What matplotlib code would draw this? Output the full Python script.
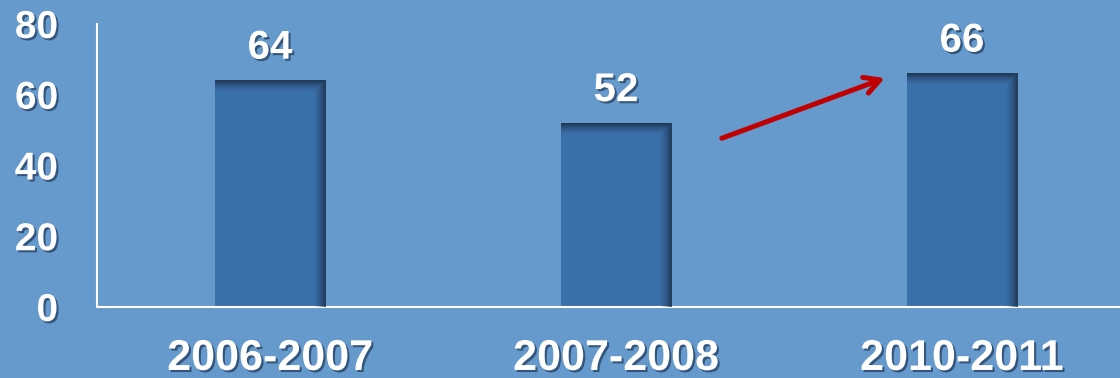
"""
bar chart of yearly counts with trend arrow
"""

import numpy as np
import matplotlib
matplotlib.use("Agg")
import matplotlib.pyplot as plt
import matplotlib.patheffects as pe

# data
periods = ["2006-2007", "2007-2008", "2010-2011"]
counts = [64, 52, 66]
y_ticks = [0, 20, 40, 60, 80]

BG = "#6699CC"
BAR = "#3A70AA"
shadow = [pe.withSimplePatchShadow(offset=(1.5, -1.5), shadow_rgbFace="#1F3A5C", alpha=0.7)]


def bar_shade(ax, x, h, width):
    """dark inner shade along the top and right edges of one bar"""
    n = 200
    u = np.linspace(0, 1, n)
    right = np.clip((u - 0.88) / 0.12, 0, 1) ** 1.6
    top_frac = 12 / (h * 3.54)
    v = np.linspace(0, 1, n)[:, None]
    top = np.clip((v - (1 - top_frac)) / top_frac, 0, 1) ** 1.6
    alpha = np.maximum(right[None, :], top)
    rgba = np.zeros((n, n, 4))
    rgba[..., :3] = np.array([0.1, 0.17, 0.27])
    rgba[..., 3] = alpha * 0.85
    ax.imshow(rgba, extent=(x - width / 2, x + width / 2, 0, h), origin="lower",
              aspect="auto", zorder=3, interpolation="bilinear")


def viz():
    plt.rcParams["font.family"] = ["Liberation Sans", "DejaVu Sans"]
    fig = plt.figure(figsize=(11.2, 3.78), dpi=100, facecolor=BG)
    ax = fig.add_axes([0.0866, 0.1878, 0.9134, 0.7487], facecolor=BG)

    xs = np.arange(len(periods))
    width = 0.318
    ax.bar(xs, counts, width=width, color=BAR, zorder=2)
    for x, c in zip(xs, counts):
        bar_shade(ax, x, c, width)
        ax.annotate(str(c), (x, c), xytext=(0, 10), textcoords="offset points",
                    ha="center", va="bottom", fontsize=29, fontweight="bold",
                    color="white", path_effects=shadow)

    # red arrow pointing at the last bar
    ax.annotate("", xy=(1.777, 64.7), xytext=(1.306, 47.7),
                arrowprops=dict(arrowstyle="->,head_length=1.1,head_width=0.6",
                                color="#C00000", lw=3.6, shrinkA=0, shrinkB=0),
                zorder=4)

    ax.set_xlim(-0.5, 2.457)
    ax.set_ylim(0, 80)
    ax.set_xticks(xs)
    ax.set_xticklabels(periods)
    ax.set_yticks(y_ticks)
    ax.tick_params(length=0, colors="white")
    ax.tick_params(axis="y", pad=28)
    ax.tick_params(axis="x", pad=23)
    for lbl in ax.get_yticklabels():
        lbl.set_fontsize(28)
        lbl.set_fontweight("bold")
        lbl.set_path_effects(shadow)
    for lbl in ax.get_xticklabels():
        lbl.set_fontsize(31)
        lbl.set_fontweight("bold")
        lbl.set_path_effects(shadow)

    for side in ["top", "right"]:
        ax.spines[side].set_visible(False)
    for side in ["left", "bottom"]:
        ax.spines[side].set_color("white")
        ax.spines[side].set_linewidth(1.5)

    fig.savefig("out.png", dpi=100, facecolor=BG)


if __name__ == "__main__":
    viz()
